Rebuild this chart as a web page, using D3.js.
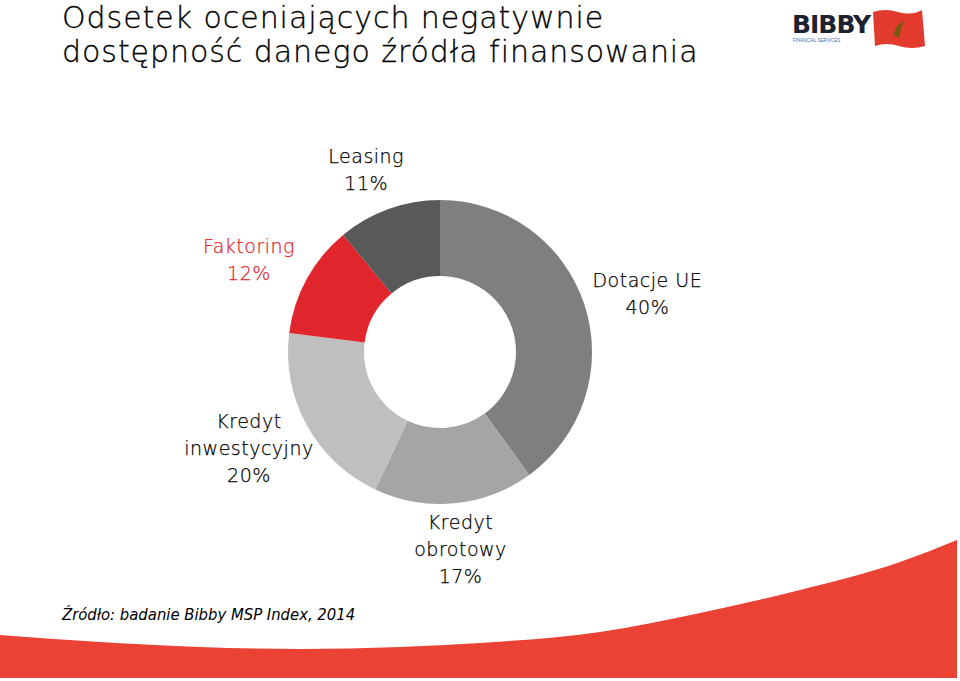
<!DOCTYPE html>
<html><head><meta charset="utf-8">
<script src="https://cdn.jsdelivr.net/npm/d3@7"></script>
<style>body{margin:0;background:#fff}svg{display:block}</style>
</head><body>
<svg id="c" width="960" height="681"></svg>
<script>
const categories = ["Dotacje UE", "Kredyt obrotowy", "Kredyt inwestycyjny", "Faktoring", "Leasing"];
const labelLines = [["Dotacje UE"], ["Kredyt", "obrotowy"], ["Kredyt", "inwestycyjny"], ["Faktoring"], ["Leasing"]];
const values = [40, 17, 20, 12, 11];
const colors = ["#7f7f7f", "#a5a5a5", "#bfbfbf", "#e0262c", "#595959"];
const labelColors = ["#000", "#000", "#000", "#e0262c", "#000"];
const titleLines = ["Odsetek oceniających negatywnie", "dostępność danego źródła finansowania"];
const sourceText = "Źródło: badanie Bibby MSP Index, 2014";
const waveX = [0, 100, 200, 300, 400, 480, 600, 700, 800, 900, 957];
const waveY = [635, 642, 647, 649, 647, 643, 632, 613, 590, 562, 540];

const svg = d3.select("#c");
const TF = "'DejaVu Sans', sans-serif";

// red wave decoration
const wavePts = waveX.map((x, i) => [x, waveY[i]]);
const waveLine = d3.line().curve(d3.curveMonotoneX);
svg.append("path")
  .attr("d", waveLine(wavePts) + `L957,678L0,678Z`)
  .attr("fill", "#ea4234");

// title
const title = svg.append("text")
  .attr("font-family", TF).attr("font-weight", 200)
  .attr("font-size", 30).attr("letter-spacing", 0.95).attr("fill", "#000")
  .attr("stroke", "#000").attr("stroke-width", 0.3);
titleLines.forEach((t, i) => title.append("tspan").attr("x", 62).attr("y", 28 + i * 34).text(t));

// logo
const logo = svg.append("g");
logo.append("text").attr("x", 792).attr("y", 33).attr("font-family", "'DejaVu Sans', sans-serif")
  .attr("font-weight", 700).attr("font-size", 25).attr("fill", "#1c2230").attr("letter-spacing", -1).text("BIBBY");
logo.append("text").attr("x", 793).attr("y", 42).attr("font-family", "'Liberation Sans', sans-serif")
  .attr("font-size", 4.5).attr("fill", "#4a6aa0").text("FINANCIAL SERVICES");
logo.append("path").attr("d", "M873,12 Q885,8 898,12 Q912,16 922,10 L925,46 Q912,50 899,46 Q886,42 875,46 Z")
  .attr("fill", "#e23a2c");
logo.append("path").attr("d", "M893,35 L897,26 L905,20 L901,28 L899,38 Z").attr("fill", "#7a5a10");

// donut
const cx = 440, cy = 352, rOuter = 152, rInner = 76;
const g = svg.append("g").attr("transform", `translate(${cx},${cy})`);
const pie = d3.pie().sort(null).value(d => d)(values);
const arc = d3.arc().innerRadius(rInner).outerRadius(rOuter);
g.selectAll("path.slice").data(pie).enter().append("path")
  .attr("class", "slice").attr("d", arc).attr("fill", (d, i) => colors[i]);

// labels
const lrx = 218, lry = 196, lOff = 2, lh = 27, fs = 19;
pie.forEach((d, i) => {
  const a = (d.startAngle + d.endAngle) / 2;
  const x = Math.sin(a) * lrx, y = lOff - Math.cos(a) * lry;
  const lines = labelLines[i].concat([values[i] + "%"]);
  const y0 = y - (lines.length - 1) * lh / 2 + fs * 0.36;
  const t = g.append("text").attr("text-anchor", "middle")
    .attr("font-family", TF).attr("font-weight", 200).attr("letter-spacing", 0.5)
    .attr("font-size", fs).attr("fill", labelColors[i])
    .attr("stroke", labelColors[i]).attr("stroke-width", 0.25);
  lines.forEach((s, k) => t.append("tspan").attr("x", x).attr("y", y0 + k * lh).text(s));
});

// source
svg.append("text").attr("x", 62).attr("y", 620)
  .attr("font-family", "'Liberation Sans Narrow', 'DejaVu Sans Condensed', sans-serif")
  .attr("font-style", "italic").attr("font-size", 16.5).attr("fill", "#000").text(sourceText);
</script>
</body></html>
